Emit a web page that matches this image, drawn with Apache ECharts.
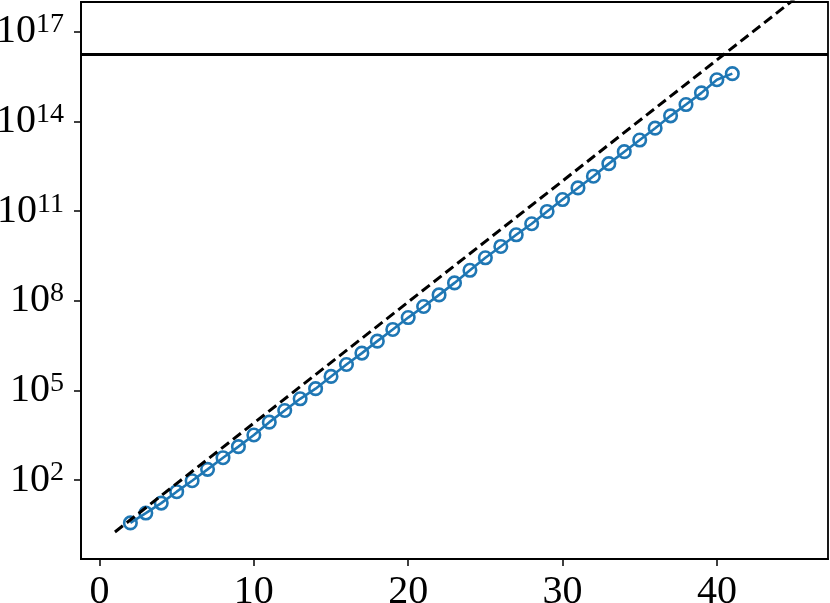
<!DOCTYPE html>
<html>
<head>
<meta charset="utf-8">
<script src="https://cdn.jsdelivr.net/npm/echarts@6/dist/echarts.min.js"></script>
<style>
  html, body { margin: 0; padding: 0; background: #fff; }
  #chart { width: 830px; height: 603px; }
</style>
</head>
<body>
<div id="chart"></div>
<script>
// data
var ns = [2, 3, 4, 5, 6, 7, 8, 9, 10, 11, 12, 13, 14, 15, 16, 17, 18, 19, 20, 21,
          22, 23, 24, 25, 26, 27, 28, 29, 30, 31, 32, 33, 34, 35, 36, 37, 38, 39, 40, 41];
var counts = [3.7, 7.9, 17, 41, 95, 229, 562, 1318, 3236, 8710,
              2.14e4, 5.25e4, 1.15e5, 2.95e5, 7.41e5, 1.78e6, 4.47e6, 1.10e7, 2.75e7, 6.46e7,
              1.58e8, 3.98e8, 1.05e9, 2.75e9, 6.6e9, 1.62e10, 3.8e10, 9.8e10, 2.45e11, 6.0e11,
              1.48e12, 3.9e12, 9.8e12, 2.4e13, 6.0e13, 1.55e14, 3.7e14, 9.1e14, 2.5e15, 4.0e15];
var boundX = [1, 45];
var boundY = [1.84, 1.22e18];
var limitY = 1.8e16;
var xTicks = [0, 10, 20, 30, 40];
var yTicks = [1e2, 1e5, 1e8, 1e11, 1e14, 1e17];

var font = 'Liberation Serif';
var chart = echarts.init(document.getElementById('chart'));

var option = {
  animation: false,
  grid: {
    left: 81, right: 2, top: 2, bottom: 44,
    outerBoundsMode: 'none',
    containLabel: false,
    show: true, borderColor: '#000', borderWidth: 1.8
  },
  xAxis: {
    type: 'value',
    min: -1.2,
    max: 47.2,
    axisLine: { onZero: false, lineStyle: { color: '#000', width: 1.8 } },
    axisTick: { customValues: xTicks, length: 7, lineStyle: { color: '#000', width: 1.5 } },
    axisLabel: {
      customValues: xTicks,
      margin: 13,
      color: '#000',
      fontFamily: font,
      fontSize: 40
    },
    splitLine: { show: false }
  },
  yAxis: {
    type: 'log',
    logBase: 10,
    min: 0.229,
    max: 1e18,
    axisLine: { onZero: false, lineStyle: { color: '#000', width: 1.8 } },
    axisTick: { customValues: yTicks, length: 7, lineStyle: { color: '#000', width: 1.5 } },
    axisLabel: {
      customValues: yTicks,
      margin: 17,
      formatter: function (v) {
        return '{b|10}{s|' + Math.round(Math.log10(v)) + '}';
      },
      rich: {
        b: { fontFamily: font, fontSize: 40, color: '#000', lineHeight: 40, verticalAlign: 'bottom' },
        s: { fontFamily: font, fontSize: 28, color: '#000', lineHeight: 28, verticalAlign: 'bottom', padding: [0, 0, 13, 0] }
      }
    },
    splitLine: { show: false },
    minorTick: { show: false }
  },
  series: [
    {
      type: 'line',
      data: ns.map(function (n, i) { return [n, counts[i]]; }),
      symbol: 'circle',
      symbolSize: 12.5,
      showAllSymbol: true,
      lineStyle: { color: '#1f77b4', width: 2.6 },
      itemStyle: { color: 'rgba(0,0,0,0)', borderColor: '#1f77b4', borderWidth: 2.6 },
      z: 3
    },
    {
      type: 'line',
      data: [[boundX[0], boundY[0]], [boundX[1], boundY[1]]],
      symbol: 'none',
      lineStyle: { color: '#000', width: 3, type: [10, 5] },
      z: 4,
      markLine: {
        silent: true,
        symbol: 'none',
        label: { show: false },
        lineStyle: { color: '#000', width: 3, type: 'solid' },
        data: [{ yAxis: limitY }]
      }
    }
  ]
};

option && chart.setOption(option);
window.onresize = function () {
  chart.resize();
};
</script>
</body>
</html>
